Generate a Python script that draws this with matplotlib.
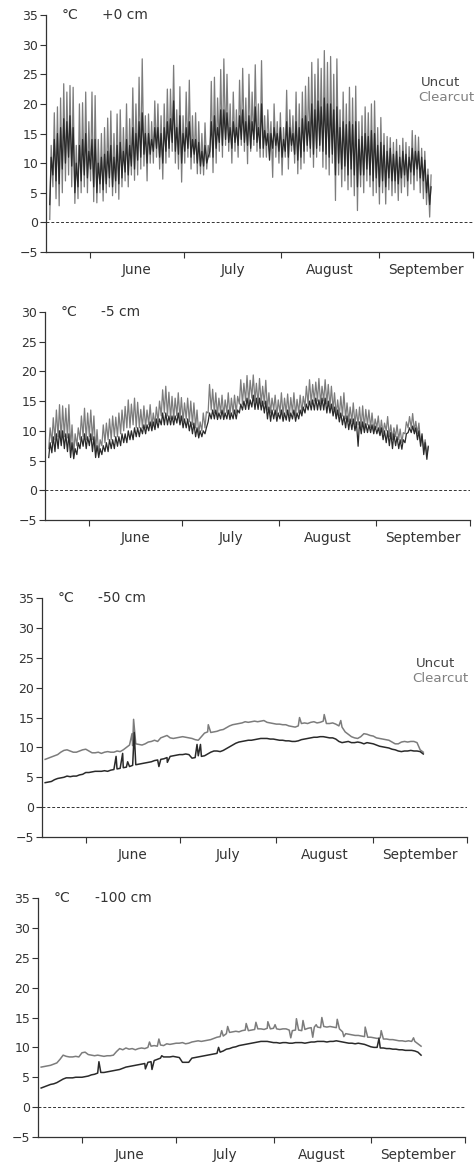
import numpy as np
import matplotlib.pyplot as plt

plt.rcParams['font.family'] = ['DejaVu Sans']

# day 0 = 18 May; one reading block per day from 19 May to 17 September
days = np.arange(1, 123)
month_edges = [14, 44, 75, 106, 136]
month_mid = [29, 59.5, 90.5, 121]
month_names = ['June', 'July', 'August', 'September']

# +0 cm, daily extremes (°C)
cc0_max = [13, 18.5, 19.5, 21, 23.4, 22, 23.1, 22.8, 13, 20,
           20.2, 22, 17, 22, 21.4, 14, 15, 16, 17.6, 18.8,
           15, 18.3, 19, 16, 20, 17.5, 22.7, 20, 24.5, 27.6,
           18, 18.3, 17, 20.5, 20, 18, 20, 22.5, 22.5, 26.5,
           19, 22.9, 18, 22, 24, 18, 18.5, 17, 15, 16.8,
           13, 23.8, 24.5, 21, 25.8, 27.6, 25, 20, 22, 19,
           24, 26, 21, 25, 22, 26.6, 20, 27.3, 18, 19,
           17, 20, 17, 18.5, 16, 22.3, 19, 18, 22, 20,
           22, 23, 24.5, 27, 25, 27.6, 26, 29, 27, 28,
           25, 27.6, 19, 22, 20, 22.8, 21, 23, 17, 18,
           19.5, 18.5, 20, 20.5, 16, 17.7, 15, 14.5, 14.3, 13.5,
           14, 13, 14.2, 13.5, 12.8, 15.5, 14.7, 14.4, 12.5, 12,
           9, 8]
cc0_min = [0.5, 6, 4, 2.8, 5, 7, 8, 6, 3.2, 4,
           5, 6, 5, 7, 3.5, 3.3, 5, 3.6, 5, 6,
           4.5, 5, 3.9, 6, 7, 6, 8, 7.1, 8, 9,
           9.5, 7, 10, 10, 11, 9, 7.3, 10, 11, 12,
           10, 9, 6.8, 10, 11, 9, 10, 8.2, 8.2, 8,
           9, 11, 8.4, 10, 12, 11, 13, 12, 10, 12,
           11, 13, 12, 9.9, 12, 13, 12, 11, 11, 11,
           12, 7.6, 11, 10, 8, 11, 9, 12, 10, 8.2,
           9, 10, 12, 11, 9.3, 11, 12, 9.3, 9, 8,
           10, 3.7, 8, 6, 7, 5.5, 6, 4.5, 2.0, 6,
           5, 7, 6, 4.5, 5, 3.1, 5, 3.1, 5.5, 4.5,
           5, 3.7, 5, 6, 4.5, 6.5, 5.5, 7, 5, 4,
           3, 0.9]
uc0_max = [11, 14, 15, 16, 17.5, 17, 18, 16, 10, 13,
           14, 15, 12, 14, 14, 10, 11, 11.5, 12, 13,
           11, 13, 13.5, 12, 14, 13, 16, 15, 17, 18.5,
           15, 15, 14, 16, 16, 15, 16, 17, 17.5, 20.5,
           16, 18, 15, 16, 17, 14, 14, 13.5, 12, 13,
           11, 17, 18, 16, 19, 19, 18.5, 16, 17, 16,
           18, 19, 17, 18, 17, 19.5, 16, 20, 15.5, 15,
           15, 16, 15, 16, 14, 17, 16, 15, 17, 16,
           17.5, 18, 17, 20, 19, 20.5, 19.5, 21, 20, 20,
           19, 19.5, 16, 17, 16.5, 17, 16.5, 17, 14, 14.5,
           15, 14.5, 15.5, 15, 13, 13.5, 13, 12, 12.5, 11.5,
           12, 11, 12, 11.5, 11, 12.5, 12, 12, 11, 10.5,
           8, 6]
uc0_min = [3, 8, 7, 6.5, 9, 10, 11, 9.5, 5, 6,
           7, 8, 7.5, 9, 6, 5, 6.5, 5.5, 6.5, 7.5,
           6, 7, 6.5, 7.5, 8.5, 8, 9.5, 9, 10.5, 11,
           11.5, 10, 11.5, 12, 12.5, 11, 10, 12, 12.5, 13.5,
           12, 11.5, 10, 12, 12.5, 11, 11.5, 10, 9.5, 9.5,
           10, 12, 11, 12.5, 13.5, 13, 14, 13.5, 12.5, 13.5,
           13, 14, 13.5, 13, 12.5, 14, 13.5, 12.5, 12.5, 13,
           10.5, 12.5, 13, 12, 11, 12, 11, 13, 11.5, 10.5,
           11, 12, 13, 12.5, 11.5, 12.5, 13, 12, 11.5, 11,
           11.5, 8, 10, 9, 9.5, 8, 9, 8, 6, 8,
           8, 9, 8, 7, 7.5, 6, 7, 6, 7.5, 7,
           7, 6.5, 7.5, 8, 7, 8.5, 8, 9, 7.5, 7,
           5, 3]

# -5 cm, daily extremes (°C)
cc5_max = [10.5, 12.2, 13.5, 14.4, 14.2, 13.8, 14.4, 11, 9.5, 10.5,
           12.5, 13.8, 13, 13.5, 12.5, 10.2, 8.5, 11, 11.3, 12,
           12.5, 12.3, 13, 13.5, 14.1, 15.2, 14.5, 15.5, 14.8, 13.6,
           14.2, 13.5, 14.4, 13, 14, 15, 16.9, 17.5, 16.5, 15.8,
           15.5, 16.4, 15.6, 14.7, 15.5, 15, 14.7, 13.5, 11.5, 13,
           13.2, 17.8, 17, 16.4, 15.5, 16, 15.2, 16.4, 15.5, 16,
           15.8, 18.6, 18, 19.3, 18.5, 19.4, 18, 18.8, 17.5, 18.5,
           16.4, 15.5, 16, 15.2, 16.4, 15.5, 16.2, 15.6, 16.4, 15.3,
           16, 15.8, 17.5, 18.6, 17.8, 18.2, 18.8, 17.5, 18.6, 17.8,
           17.5, 16.4, 15.2, 15.8, 16.4, 14.7, 14, 14.7, 13.6, 14,
           14.2, 13.6, 13.5, 13, 12, 12.5, 11.8, 11.3, 12.4, 11,
           10.5, 11, 10.3, 9.7, 11.5, 12.4, 12.9, 11.6, 11.3, 9.1,
           8.5, 7.2]
cc5_min = [7, 8, 8.5, 9, 8.5, 9, 8.8, 7, 6, 7.5,
           8.5, 9, 8.5, 9, 8.5, 6.5, 6, 7.5, 8, 8.5,
           8.5, 9, 9, 9.5, 10, 10.5, 10.5, 11, 10.5, 10.5,
           10.5, 10.5, 11, 10.5, 11, 11.5, 12.5, 13, 12.5, 12,
           12, 12.5, 12, 11.5, 12, 11.5, 11, 10.5, 9.5, 10,
           10.5, 13, 13.5, 13, 12.5, 13, 12.5, 13, 12.5, 13,
           13, 14.5, 14.5, 15, 14.5, 15.5, 15, 14.5, 14.5, 14.5,
           13.5, 13, 13.5, 12.5, 13, 12.5, 13, 12.5, 13, 12.5,
           13, 13, 14, 14.5, 14.5, 15, 15, 14.5, 15, 14.5,
           14, 13.5, 12.5, 12.5, 12.5, 12, 11.5, 11.5, 11, 11,
           10.5, 10.5, 11, 10.5, 10, 10.5, 9.5, 9.5, 10, 9,
           8.5, 9, 8.5, 8, 9.5, 10.5, 10.5, 10, 9.5, 8,
           7, 6]
uc5_max = [8, 9, 9.5, 10, 10, 9.5, 9.5, 8, 7, 8,
           9, 9.5, 9, 9.5, 9, 7.5, 7, 7.5, 8, 8.5,
           8.5, 9, 9, 9.5, 9.5, 10, 10, 10.5, 10.5, 10.5,
           11, 11, 11.5, 11.5, 12, 12, 13, 13, 12.5, 12.5,
           12.5, 13, 12.5, 12, 12, 11.5, 11.3, 10.5, 10, 10,
           10.5, 13, 13.5, 13.5, 13, 13.5, 13, 13.5, 13, 13.5,
           13.5, 14.5, 15, 15.5, 15.2, 16, 15.5, 15.5, 15, 15,
           14, 13.5, 13.5, 13, 13.5, 13, 13.5, 13, 13.5, 13,
           13.5, 14, 14.5, 15, 15.2, 15.5, 15.2, 15.5, 15.5, 15,
           14.5, 14, 13.5, 13, 12.5, 12.5, 12, 12, 11.5, 11.5,
           11.5, 11.2, 11, 11, 10.8, 10.5, 10.5, 10, 10, 9.7,
           9.5, 9, 8.5, 8.5, 9.5, 10.5, 10.8, 10.5, 10, 9.5,
           8, 7.4]
uc5_min = [5.5, 6.3, 6.5, 7, 7.5, 7, 6.5, 5.5, 5.3, 6,
           7, 7.4, 7, 7.5, 6.5, 5.5, 5.5, 6, 6.5, 6.5,
           7, 7, 7.4, 7.5, 8, 8, 8.5, 8.5, 9, 9,
           9.5, 9.5, 10, 10, 10.2, 10.5, 11, 11, 11, 11,
           11, 11.3, 11, 10.5, 10.5, 10, 9.5, 9, 8.8, 9,
           9.5, 11.5, 12, 12, 11.9, 12, 11.9, 12, 11.9, 12,
           12, 13, 13.5, 13.6, 13.6, 14, 13.6, 13.6, 13.5, 13,
           12, 11.6, 12, 11.6, 12, 11.6, 11.8, 11.6, 12, 11.6,
           12, 12.5, 13, 13.5, 13.5, 13.5, 13.5, 13.5, 13.5, 13,
           13, 12.5, 12, 11.5, 11, 10.5, 10.2, 10.2, 10, 7.4,
           9.5, 9.7, 9.7, 9.7, 9.5, 9.5, 9.2, 8.5, 8, 7.5,
           7, 7.5, 7, 6.9, 8, 9.7, 9.7, 9.5, 8.5, 7.4,
           6, 5.2]

# -50 cm, daily readings (°C) and short excursions
cc50 = [8.0, 8.2, 8.4, 8.6, 8.8, 9.2, 9.5, 9.6, 9.4, 9.2,
        9.2, 9.4, 9.6, 9.7, 9.4, 9.1, 9.1, 9.2, 9.0, 9.2,
        9.3, 9.2, 9.2, 9.4, 9.3, 9.6, 10.0, 10.4, 10.3, 10.6,
        10.5, 10.4, 10.6, 10.9, 11.0, 11.2, 11.0, 11.6, 11.8, 12.0,
        11.6, 11.5, 11.6, 11.7, 11.8, 11.7, 11.6, 11.5, 11.3, 11.2,
        11.8, 12.4, 12.6, 12.5, 12.6, 12.7, 12.9, 13.0, 13.3, 13.6,
        13.8, 13.9, 14.0, 14.1, 14.3, 14.2, 14.3, 14.4, 14.3, 14.4,
        14.5, 14.2, 14.1, 14.0, 13.9, 13.9, 13.8, 13.8, 13.6, 13.5,
        13.4, 13.6, 14.0, 14.1, 14.0, 14.2, 14.3, 14.1, 14.2, 14.4,
        14.0, 14.0, 14.1, 13.9, 13.6, 13.4, 12.6, 12.2, 11.8, 11.6,
        11.5, 11.8, 12.3, 12.2, 12.0, 11.9, 11.6, 11.5, 11.4, 11.3,
        11.2, 10.9, 10.6, 10.6, 10.9, 11.0, 10.9, 11.0, 11.0, 10.8,
        9.6, 9.2]
uc50 = [4.1, 4.2, 4.3, 4.6, 4.8, 4.9, 5.0, 5.2, 5.1, 5.2,
        5.2, 5.4, 5.5, 5.8, 5.8, 5.9, 6.0, 6.0, 6.0, 6.1,
        6.0, 6.2, 6.3, 6.4, 6.5, 6.6, 6.7, 6.8, 7.0, 7.1,
        7.2, 7.3, 7.4, 7.5, 7.6, 7.8, 7.9, 8.0, 8.1, 8.3,
        8.5, 8.6, 8.7, 8.8, 8.8, 8.9, 8.8, 8.2, 8.3, 8.6,
        8.5, 8.6, 8.9, 9.2, 9.4, 9.4, 9.3, 9.5, 9.8, 10.1,
        10.4, 10.7, 10.9, 11.0, 11.1, 11.2, 11.2, 11.3, 11.4, 11.5,
        11.5, 11.5, 11.4, 11.4, 11.3, 11.2, 11.2, 11.1, 11.1, 11.0,
        11.0, 11.1, 11.3, 11.4, 11.5, 11.6, 11.7, 11.7, 11.8, 11.8,
        11.7, 11.6, 11.6, 11.4, 11.0, 10.8, 10.9, 11.0, 10.8, 10.8,
        10.9, 10.8, 10.6, 10.8, 10.7, 10.6, 10.4, 10.2, 10.1, 10.0,
        9.9, 9.7, 9.6, 9.4, 9.3, 9.4, 9.4, 9.5, 9.4, 9.4,
        9.3, 8.9]
cc50_spike_days = [28.8, 29.3, 53.2, 82.4, 90.3, 95.6]
cc50_spike_vals = [12.3, 14.7, 13.8, 15.0, 15.5, 14.5]
uc50_spike_days = [23.7, 25.8, 27.4, 29.5, 37.4, 40.1, 49.6, 50.7]
uc50_spike_vals = [8.5, 9.0, 7.6, 12.5, 6.8, 7.5, 10.5, 10.5]

# -100 cm, daily readings (°C) and short excursions
cc100 = [6.7, 6.8, 6.9, 7.0, 7.2, 7.4, 8.0, 8.7, 8.5, 8.4,
         8.4, 8.5, 8.4, 9.1, 9.2, 8.8, 8.7, 8.6, 8.7, 8.6,
         8.5, 8.6, 8.6, 8.7, 9.3, 9.8, 9.6, 9.9, 9.7, 9.8,
         9.6, 9.8, 9.9, 9.8, 10.0, 10.2, 10.3, 10.2, 10.4, 10.3,
         10.6, 10.5, 10.6, 10.7, 10.7, 10.8, 10.6, 10.7, 10.9, 11.0,
         11.1, 11.0, 11.1, 11.2, 11.3, 11.5, 11.7, 11.8, 11.9, 12.3,
         12.5, 12.6, 12.7, 12.6, 12.8, 12.9, 12.8, 12.9, 13.0, 13.1,
         13.1, 13.0, 13.2, 13.1, 13.2, 13.1, 13.0, 13.1, 13.1, 12.9,
         12.8, 12.9, 12.9, 12.8, 13.0, 13.2, 13.3, 13.4, 13.4, 13.3,
         13.5, 13.4, 13.5, 13.4, 13.3, 13.1, 12.6, 12.3, 12.2, 12.1,
         12.0, 12.0, 11.9, 11.8, 11.7, 11.7, 11.6, 11.5, 11.6, 11.4,
         11.4, 11.3, 11.3, 11.2, 11.1, 11.1, 11.0, 11.1, 11.0, 11.0,
         10.6, 10.2]
uc100 = [3.2, 3.4, 3.6, 3.8, 3.9, 4.1, 4.4, 4.7, 4.9, 4.9,
         4.9, 5.0, 5.0, 5.0, 5.1, 5.2, 5.4, 5.5, 5.7, 5.8,
         5.8, 5.9, 6.0, 6.1, 6.2, 6.3, 6.5, 6.7, 6.8, 6.9,
         7.0, 7.1, 7.2, 7.3, 7.5, 7.6, 7.8, 8.0, 8.2, 8.4,
         8.4, 8.4, 8.5, 8.4, 8.3, 7.5, 7.5, 7.5, 8.2, 8.3,
         8.4, 8.5, 8.6, 8.7, 8.8, 8.9, 9.0, 9.2, 9.4, 9.7,
         9.8, 10.0, 10.1, 10.3, 10.4, 10.5, 10.6, 10.7, 10.8, 10.9,
         11.0, 11.0, 11.0, 10.9, 10.8, 10.8, 10.7, 10.8, 10.8, 10.7,
         10.7, 10.8, 10.8, 10.8, 10.7, 10.8, 10.9, 10.9, 11.0, 11.0,
         11.0, 10.9, 11.0, 11.0, 11.1, 11.0, 10.9, 10.8, 10.7, 10.7,
         10.6, 10.7, 10.6, 10.5, 10.3, 10.1, 10.0, 10.0, 9.9, 9.9,
         9.8, 9.8, 9.7, 9.7, 9.6, 9.6, 9.5, 9.5, 9.5, 9.4,
         9.2, 8.7]
cc100_spike_days = [35.5, 38.5, 58.5, 60.4, 66.3, 69.4, 73.2, 75.5, 80.5, 82.3,
                    84.4, 87.5, 88.6, 90.4, 95.3, 97.4, 104.2, 109.3, 119.6]
cc100_spike_vals = [10.9, 11.4, 12.8, 13.5, 14.0, 14.2, 14.3, 13.8, 11.6, 14.8,
                    14.5, 11.7, 13.8, 15.0, 14.7, 11.8, 13.4, 12.8, 11.6]
uc100_spike_days = [19.4, 34.2, 36.3, 39.4, 57.5, 108.6]
uc100_spike_vals = [7.6, 6.4, 6.3, 8.6, 10.0, 11.5]

UNCUT = '#2a2a2a'
CLEARCUT = '#7c7c7c'
INK = '#333333'


def diurnal(dmin, dmax):
    # morning low then afternoon high for each day
    x = np.column_stack([days + 0.2, days + 0.65]).ravel()
    y = np.column_stack([dmin, dmax]).ravel()
    return x, y


def with_spikes(values, spike_days, spike_vals):
    x = np.concatenate([days, spike_days])
    y = np.concatenate([values, spike_vals])
    order = np.argsort(x, kind='stable')
    return x[order], y[order]


def setup(ax, ytop, depth, legend_y=None):
    ax.set_xlim(0, 136)
    ax.set_ylim(-5, ytop)
    for side in ('top', 'right'):
        ax.spines[side].set_visible(False)
    for side in ('left', 'bottom'):
        ax.spines[side].set_color(INK)
        ax.spines[side].set_linewidth(0.9)
    ax.set_yticks(range(-5, ytop + 1, 5))
    ax.tick_params(axis='y', direction='out', length=4, width=0.8,
                   colors=INK, labelsize=9, pad=1.5)
    ax.set_xticks(month_edges)
    ax.set_xticklabels([])
    ax.tick_params(axis='x', which='major', direction='out', length=4, width=0.8, colors=INK)
    ax.set_xticks(month_mid, minor=True)
    ax.set_xticklabels(month_names, minor=True)
    ax.tick_params(axis='x', which='minor', length=0, pad=8, labelsize=9.8, labelcolor=INK)
    ax.axhline(0, ls=(0, (3, 2)), lw=0.7, color=INK, zorder=1)
    ax.text(5, ytop, '°C', fontsize=10, color=INK, va='center', ha='left')
    ax.text(18, ytop, depth, fontsize=10, color=INK, va='center', ha='left')
    if legend_y is not None:
        ax.text(119.5, legend_y, 'Uncut', fontsize=9.6, color='#444444', ha='left', va='center')
        ax.text(118.5, legend_y - 2.6, 'Clearcut', fontsize=9.6, color='#808080', ha='left', va='center')


fig = plt.figure(figsize=(4.77, 11.64), dpi=100)

ax1 = fig.add_axes([0.0964, 0.7835, 0.8952, 0.2036])
ax1.plot(*diurnal(cc0_min, cc0_max), color=CLEARCUT, lw=0.9, zorder=2)
ax1.plot(*diurnal(uc0_min, uc0_max), color=UNCUT, lw=0.9, zorder=3)
setup(ax1, 35, '+0 cm', legend_y=23.6)

ax2 = fig.add_axes([0.0943, 0.5533, 0.891, 0.1787])
ax2.plot(*diurnal(cc5_min, cc5_max), color=CLEARCUT, lw=0.9, zorder=2)
ax2.plot(*diurnal(uc5_min, uc5_max), color=UNCUT, lw=0.9, zorder=3)
setup(ax2, 30, '-5 cm')

ax3 = fig.add_axes([0.0881, 0.2809, 0.891, 0.2053])
ax3.plot(*with_spikes(cc50, cc50_spike_days, cc50_spike_vals), color=CLEARCUT, lw=1.1, zorder=2)
ax3.plot(*with_spikes(uc50, uc50_spike_days, uc50_spike_vals), color=UNCUT, lw=1.1, zorder=3)
setup(ax3, 35, '-50 cm', legend_y=24.1)

ax4 = fig.add_axes([0.0797, 0.0232, 0.8952, 0.2053])
ax4.plot(*with_spikes(cc100, cc100_spike_days, cc100_spike_vals), color=CLEARCUT, lw=1.1, zorder=2)
ax4.plot(*with_spikes(uc100, uc100_spike_days, uc100_spike_vals), color=UNCUT, lw=1.1, zorder=3)
setup(ax4, 35, '-100 cm')

fig.savefig('out.png', dpi=100)
